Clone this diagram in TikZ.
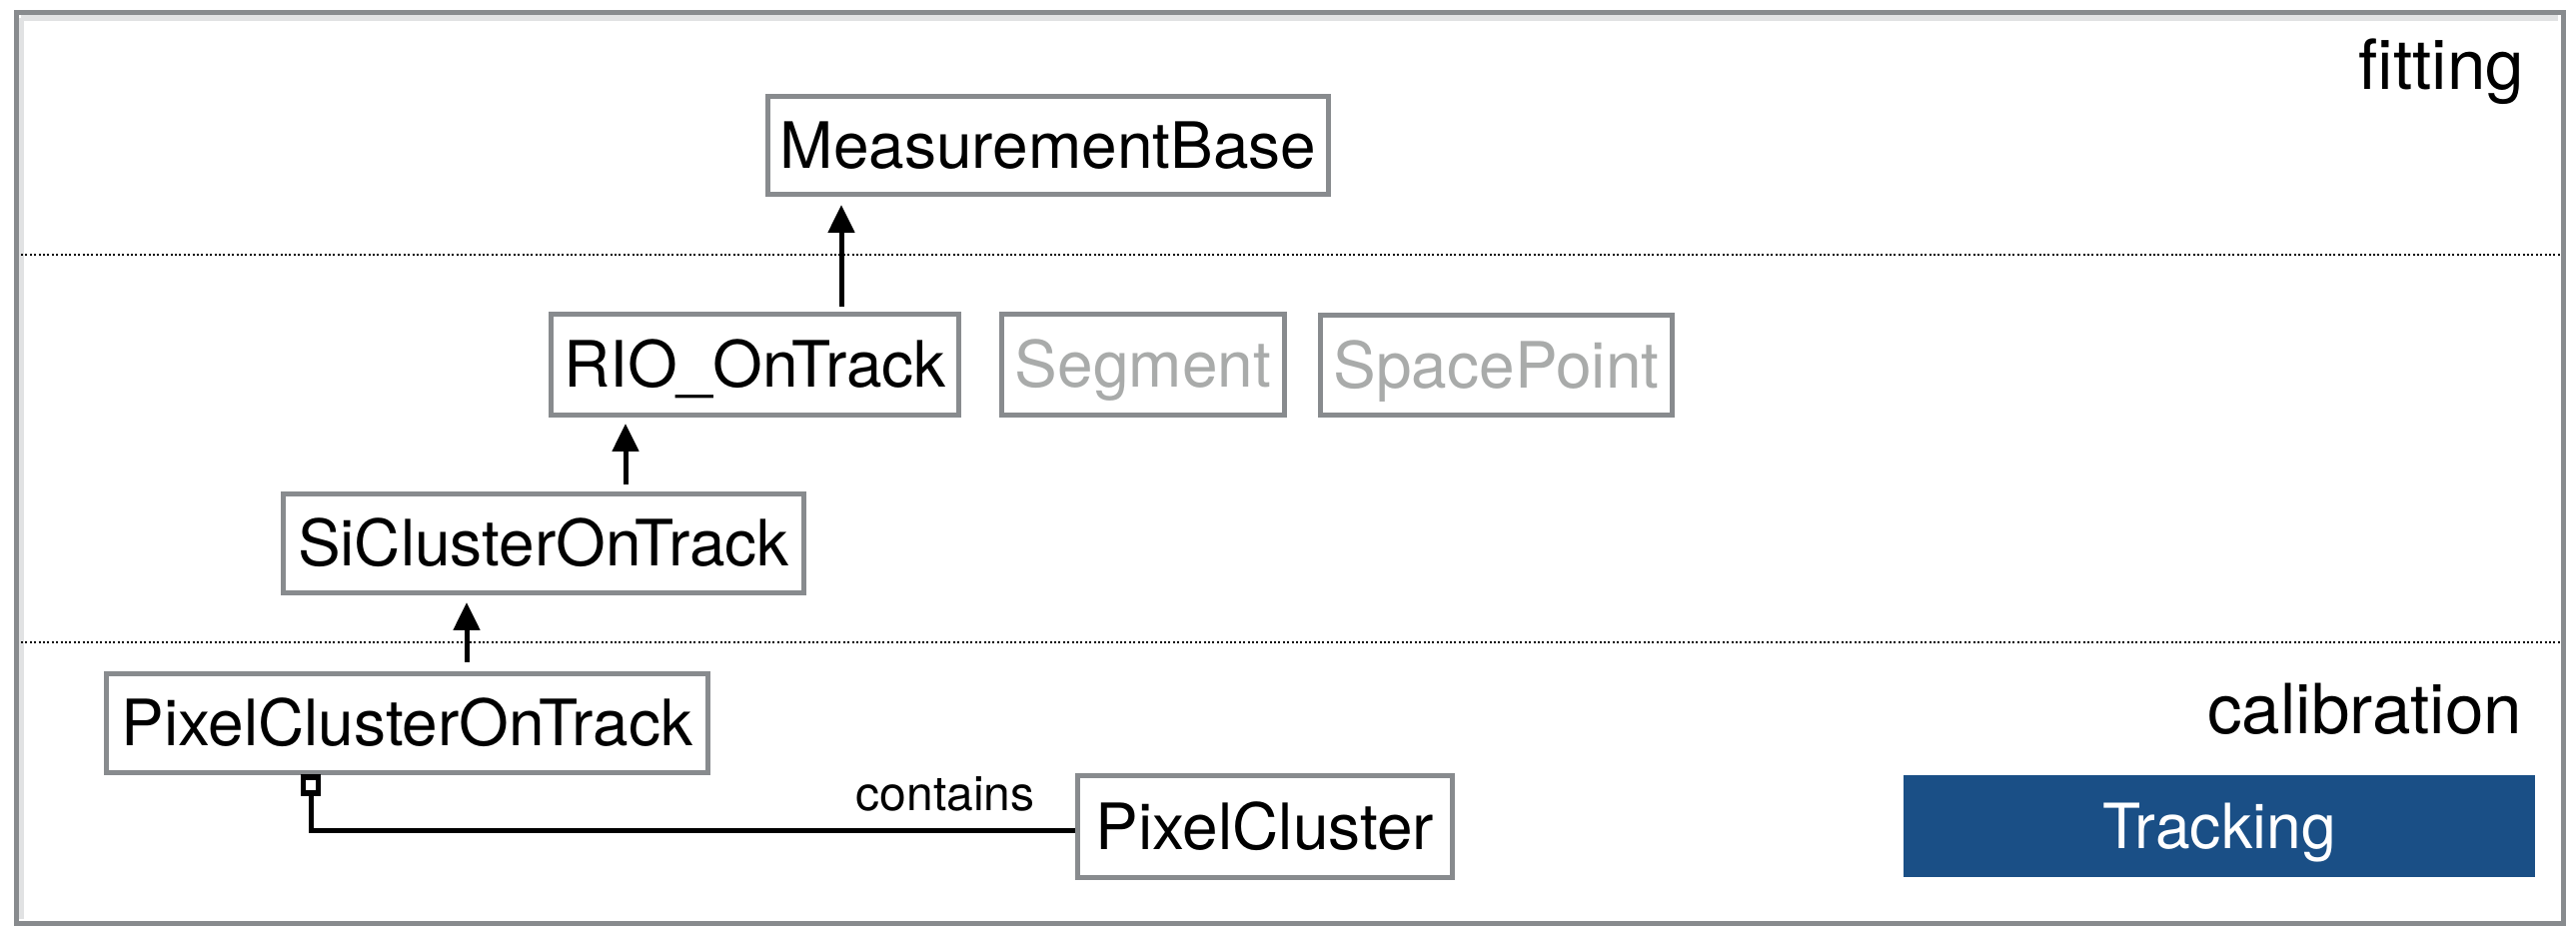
\documentclass[tikz,border=0pt]{standalone}
\usepackage{fontspec}
\setmainfont{TeX Gyre Heros}
\usetikzlibrary{arrows.meta,calc}

\definecolor{boxgray}{HTML}{888B8E}
\definecolor{ghost}{HTML}{A9ABAA}
\definecolor{trackblue}{HTML}{1A4F86}

\tikzset{
  frame/.style={draw=boxgray, line width=1.25pt},
  layerline/.style={draw=black, line width=0.5pt, dash pattern=on 0.5pt off 0.6pt},
  classbox/.style={draw=boxgray, line width=1.25pt, fill=white, inner sep=0pt,
    font=\fontsize{16}{18}\selectfont, text height=11.5pt, text depth=0pt},
  greyclass/.style={classbox, text=ghost},
  banner/.style={fill=trackblue, inner sep=0pt, text=white,
    font=\fontsize{15.6}{18}\selectfont, text height=11.2pt, text depth=0pt},
  layerlabel/.style={font=\fontsize{17.3}{20}\selectfont, inner sep=0pt, anchor=base east},
  inherit/.style={line width=1.25pt, -{Triangle[width=6.5pt,length=7pt]}},
  assoc/.style={line width=1.25pt},
  aggbox/.style={draw=black, line width=1.4pt, fill=white, inner sep=0pt,
    minimum width=3.8pt, minimum height=4pt, anchor=north},
  assoclabel/.style={font=\fontsize{12}{14}\selectfont, inner sep=0pt, anchor=base}
}

\begin{document}
\begin{tikzpicture}[x=0.25pt, y=-0.25pt]
  \useasboundingbox (0,0) rectangle (2578,927);

  % outer frame with a soft inner shade, and layer separators
  \draw[boxgray!25, line width=1.5pt] (21,18) -- (2560,18);
  \draw[boxgray!25, line width=1.5pt] (21,18) -- (21,920);
  \draw[frame] (16,12.5) rectangle (2565,925);
  \draw[layerline] (21,255) -- (2563,255);
  \draw[layerline] (21,643) -- (2563,643);

  % layer names
  \node[layerlabel] (fit) at (2527,90) {fitting};
  \node[layerlabel] (cal) at (2525,735) {calibration};

  % classes
  \node[classbox, minimum width=140.25pt, minimum height=24.5pt] (mb) at (1049,145.5) {MeasurementBase};
  \node[classbox, minimum width=102pt, minimum height=25.25pt] (rio) at (755.5,365) {RIO\_OnTrack};
  \node[greyclass, minimum width=70.75pt, minimum height=25.25pt] (seg) at (1144,365) {Segment};
  \node[greyclass, minimum width=88pt, minimum height=25pt] (sp) at (1497.5,365.5) {SpacePoint};
  \node[classbox, minimum width=130.25pt, minimum height=24.75pt] (sic) at (544,544) {SiClusterOnTrack};
  \node[classbox, minimum width=150.5pt, minimum height=24.75pt] (pcot) at (407.5,724) {PixelClusterOnTrack};
  \node[classbox, minimum width=93.75pt, minimum height=25.5pt] (pc) at (1266,827.5) {PixelCluster};
  \node[banner, minimum width=158pt, minimum height=25.5pt] (trk) at (2221,827) {Tracking};

  % inheritance arrows
  \coordinate (xa) at (842,0);
  \coordinate (xb) at (626,0);
  \coordinate (xc) at (467,0);
  \draw[inherit, shorten <=1.25pt, shorten >=2pt] (rio.north -| xa) -- (mb.south -| xa);
  \draw[inherit, shorten <=1.75pt, shorten >=1.5pt] (sic.north -| xb) -- (rio.south -| xb);
  \draw[inherit, shorten <=2.25pt, shorten >=1.75pt] (pcot.north -| xc) -- (sic.south -| xc);

  % aggregation: PixelClusterOnTrack contains PixelCluster
  \coordinate (xd) at (311,0);
  \node[aggbox] (agg) at ($(pcot.south -| xd)+(0,-1)$) {};
  \draw[assoc] ([yshift=-0.9pt]pc.west) -| (agg.south);
  \node[assoclabel] (lbl) at (946,812) {contains};
\end{tikzpicture}
\end{document}
